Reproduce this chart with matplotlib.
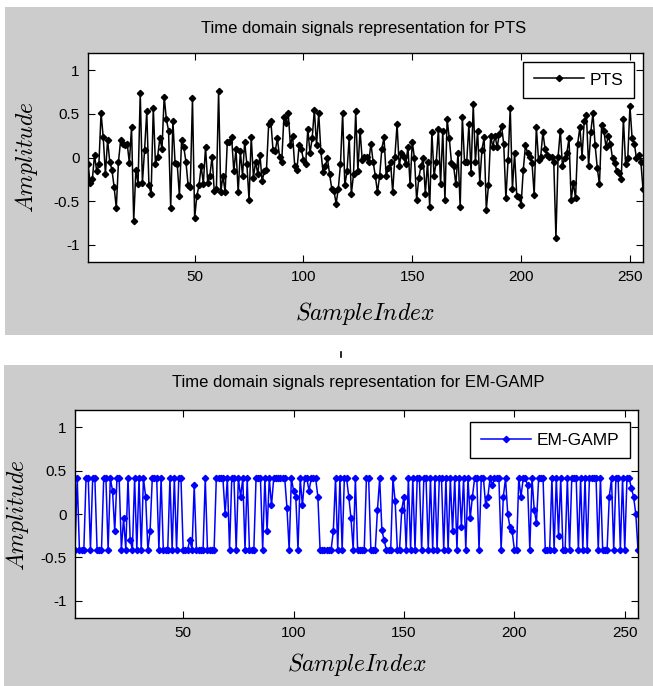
import matplotlib
matplotlib.use("Agg")
import matplotlib.pyplot as plt
from matplotlib.patches import Rectangle
from matplotlib.lines import Line2D
import numpy as np

plt.rcParams['mathtext.fontset'] = 'cm'

pts = [
    -0.08, -0.29, -0.25, 0.03, -0.16, -0.08, 0.51, 0.23, -0.19, 0.20,
    -0.05, -0.14, -0.34, -0.58, -0.05, 0.20, 0.16, 0.14, 0.16, -0.06,
    0.35, -0.73, -0.14, -0.30, 0.74, -0.29, 0.09, 0.53, -0.32, -0.42,
    0.57, -0.08, 0.01, 0.22, 0.10, 0.70, 0.44, 0.31, -0.58, 0.42,
    -0.06, -0.08, -0.44, 0.20, 0.12, -0.05, -0.32, -0.34, 0.68, -0.70,
    -0.44, -0.32, -0.10, -0.30, 0.12, -0.29, -0.21, 0.01, -0.38, -0.36,
    0.76, -0.40, -0.21, -0.40, 0.18, 0.18, 0.23, -0.16, 0.10, -0.40,
    0.07, -0.21, 0.18, -0.08, -0.49, 0.24, -0.23, -0.05, -0.19, 0.03,
    -0.27, -0.16, -0.14, 0.38, 0.42, 0.09, 0.07, 0.22, 0.01, -0.05,
    0.46, 0.40, 0.51, 0.14, 0.25, -0.10, -0.14, 0.14, 0.10, -0.03,
    -0.08, 0.33, 0.05, 0.22, 0.55, 0.14, 0.51, 0.07, -0.17, -0.10,
    -0.01, -0.19, -0.36, -0.38, -0.53, -0.36, -0.08, 0.51, -0.32, -0.16,
    0.23, -0.42, -0.19, 0.53, -0.16, 0.31, -0.03, 0.01, 0.01, -0.05,
    0.16, -0.05, -0.21, -0.40, -0.21, 0.10, 0.23, -0.21, -0.12, -0.05,
    -0.40, 0.01, 0.38, -0.10, 0.05, 0.01, -0.08, 0.12, -0.32, 0.18,
    -0.01, -0.49, -0.23, -0.10, -0.01, -0.42, -0.05, -0.57, 0.29, -0.21,
    -0.05, 0.33, -0.31, 0.31, -0.49, 0.44, 0.22, -0.06, -0.10, -0.31,
    0.05, -0.57, 0.46, -0.05, -0.05, 0.38, -0.18, 0.61, -0.05, 0.31,
    -0.29, 0.09, 0.23, -0.60, -0.32, 0.25, 0.12, 0.25, 0.12, 0.27,
    0.36, 0.16, -0.47, -0.03, 0.57, -0.36, 0.05, -0.44, -0.45, -0.54,
    -0.14, 0.14, 0.05, 0.01, -0.06, -0.43, 0.35, -0.03, 0.01, 0.29,
    0.10, 0.03, 0.01, 0.01, -0.05, -0.92, 0.01, 0.31, -0.10, -0.01,
    0.05, 0.22, -0.49, -0.29, -0.47, 0.16, 0.35, 0.01, 0.42, 0.49,
    -0.10, 0.29, 0.51, 0.14, -0.12, -0.31, 0.37, 0.31, 0.12, 0.25,
    0.16, -0.01, -0.06, -0.16, -0.18, -0.25, 0.44, -0.08, -0.01, 0.59,
    0.22, 0.16, -0.01, 0.03, -0.05, -0.36,
]

em_gamp = [
    -0.41, 0.41, -0.41, -0.41,
    -0.41, 0.41, 0.41, -0.41, 0.41, 0.41, -0.41, -0.41, -0.41, 0.41,
    0.41, -0.41, 0.41, 0.27, -0.2, 0.41, 0.41, -0.41, -0.05, -0.41,
    0.41, -0.3, -0.41, 0.41, -0.41, 0.41, -0.41, 0.41, 0.2, -0.41,
    -0.2, 0.41, 0.41, 0.41, -0.41, 0.41, -0.41, -0.41, -0.41, 0.41,
    -0.41, 0.41, -0.41, 0.41, 0.41, -0.41, -0.41, -0.41, -0.3, -0.41,
    0.33, -0.41, -0.41, -0.41, -0.41, 0.41, -0.41, -0.41, -0.41, -0.41,
    0.41, 0.41, 0.41, 0.41, 0.0, 0.41, -0.41, 0.41, 0.41, -0.41,
    0.41, 0.2, 0.41, -0.41, 0.41, -0.41, -0.41, -0.41, 0.41, 0.41,
    0.41, -0.41, 0.41, -0.2, 0.41, 0.1, 0.41,
    0.41, 0.41, 0.41, 0.41, 0.41,
    0.07, -0.41, 0.41, 0.27, 0.2, -0.41, 0.41, 0.1, 0.41, 0.41,
    0.27, 0.41, 0.41, 0.41, 0.2, -0.41, -0.41, -0.41, -0.41, -0.41,
    -0.41, -0.2, 0.41, -0.41, 0.41, -0.41, 0.41, 0.41, 0.2, -0.05,
    -0.41, 0.41, -0.41, -0.41, -0.41, -0.41, 0.41, 0.41, -0.41, -0.41,
    -0.41, 0.05, 0.41, -0.19, -0.3, -0.41, -0.41, -0.41, 0.41, 0.15,
    -0.41, -0.41, 0.05, 0.2, -0.41, 0.41, -0.41, 0.41, -0.41, 0.41,
    0.41, -0.41, 0.41, 0.41, -0.41, 0.41, -0.41, 0.41, -0.41, 0.41,
    0.41, -0.41, 0.41, -0.41, 0.41, -0.2,
    0.41, -0.41, 0.41, -0.15, 0.41, -0.41, 0.41, -0.05, 0.2, 0.41,
    0.41, -0.41, 0.41, 0.41, 0.1, 0.2, 0.41, 0.33, 0.41, 0.41,
    0.41, -0.41, 0.2, 0.41, 0.0, -0.15, -0.2, -0.41, -0.41, 0.41,
    0.2, 0.41, 0.41, 0.33, -0.41, 0.41, 0.05, -0.1, 0.41, 0.41,
    0.41, -0.41, -0.41, -0.41, 0.41, -0.41, 0.41, -0.25, 0.41, -0.41,
    -0.41, 0.41, -0.41, 0.41, 0.41, 0.41, -0.41, 0.41, -0.41, 0.41,
    -0.41, 0.41, 0.41, 0.41, 0.41, -0.41, 0.41, -0.41, -0.41, -0.41,
    0.2, 0.41, -0.41, 0.41, 0.41, -0.41, 0.41, -0.41, 0.41, 0.41,
    0.3, 0.2, 0.0, -0.41,
]

xticks = [50, 100, 150, 200, 250]
yticks = [-1, -0.5, 0, 0.5, 1]
ytick_labels = ['-1', '-0.5', '0', '0.5', '1']

W, H = 653, 686
fig = plt.figure(figsize=(W / 100, H / 100), dpi=100)
fig.patch.set_facecolor('white')

grey = '#cccccc'
fig.add_artist(Rectangle((5 / W, 1 - 335 / H), 648 / W, 328 / H,
                         transform=fig.transFigure, facecolor=grey, edgecolor='none', zorder=-10))
fig.add_artist(Rectangle((4 / W, 0), 649 / W, 1 - 365 / H,
                         transform=fig.transFigure, facecolor=grey, edgecolor='none', zorder=-10))

tick_font = ['Liberation Sans', 'DejaVu Sans']


def make_axes(rect, y, color, label, title, title_xy, ylab_xy, xlab_xy, legend_bbox):
    ax = fig.add_axes(rect, zorder=1)
    ax.set_facecolor('white')
    x = np.arange(1, len(y) + 1)
    ax.plot(x, y, '-', color=color, lw=1.1, marker='D', markersize=3.2,
            markerfacecolor=color, markeredgecolor=color, label=label)
    ax.set_xlim(1, 256)
    ax.set_ylim(-1.2, 1.2)
    ax.set_xticks(xticks)
    ax.set_yticks(yticks)
    ax.set_yticklabels(ytick_labels)
    ax.tick_params(direction='in', length=5, width=0.8, top=True, right=True,
                   labelsize=11, pad=6, colors='black')
    for lab in ax.get_xticklabels() + ax.get_yticklabels():
        lab.set_family(tick_font)
    for s in ax.spines.values():
        s.set_linewidth(1.0)
        s.set_color('black')
    leg = ax.legend(loc='upper right', bbox_to_anchor=legend_bbox, borderaxespad=0,
                    fancybox=False, framealpha=1, edgecolor='black', handlelength=2.9,
                    borderpad=0.6, handletextpad=0.35,
                    prop={'family': tick_font, 'size': 12.5})
    leg.get_frame().set_linewidth(1.0)
    fig.text(title_xy[0] / W, 1 - title_xy[1] / H, title, ha='center', va='center',
             fontsize=12, family=tick_font)
    fig.text(ylab_xy[0] / W, 1 - ylab_xy[1] / H, r'$Amplitude$', rotation=90,
             ha='center', va='center', fontsize=17)
    fig.text(xlab_xy[0] / W, 1 - xlab_xy[1] / H, r'$SampleIndex$',
             ha='center', va='center', fontsize=17)
    return ax


make_axes([88 / W, 1 - 262 / H, 555 / W, 209 / H], pts, 'black', 'PTS',
          'Time domain signals representation for PTS', (364, 28), (27, 157), (365, 313),
          (0.984, 0.957))
make_axes([75 / W, 1 - 618 / H, 563 / W, 208 / H], em_gamp, '#0000ff', 'EM-GAMP',
          'Time domain signals representation for EM-GAMP', (358, 383), (18, 515), (357, 664),
          (0.986, 0.942))

fig.add_artist(Line2D([341 / W, 341 / W], [1 - 352 / H, 1 - 357 / H],
                      transform=fig.transFigure, color='black', lw=1.2))

fig.savefig('out.png', dpi=100, facecolor='white')
